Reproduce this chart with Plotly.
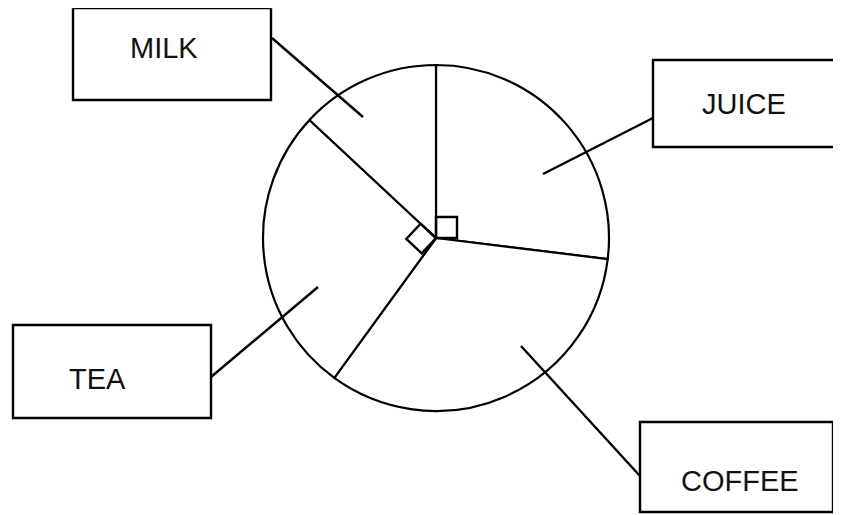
import numpy as np
import plotly.graph_objects as go

# slice sizes in degrees, clockwise from 12 o'clock
drinks = ['JUICE', 'COFFEE', 'TEA', 'MILK']
degrees = [97, 119, 97, 47]

W, H = 841, 515
PAGE = 8  # the page's body margin pushes the plot 8px right and down
CX, CY, R = 436, 238, 173

# label boxes (pixel coords): box, text centre, leader line (box end, slice end)
labels = {
    'MILK':   dict(box=(73, 8, 271, 100),   text=(164, 48),  line=((272, 38), (363, 117))),
    'JUICE':  dict(box=(653, 60, 845, 147), text=(744, 104), line=((653, 118), (543, 174))),
    'TEA':    dict(box=(13, 325, 211, 418), text=(97, 379),  line=((211, 377), (318, 287))),
    'COFFEE': dict(box=(640, 422, 833, 512), text=(740, 481), line=((640, 476), (521, 346))),
}

LINE = dict(color='black', width=2.4)

fig = go.Figure()
fig.add_trace(go.Pie(
    labels=drinks,
    values=degrees,
    sort=False,
    direction='clockwise',
    rotation=0,
    textinfo='none',
    hoverinfo='label+value',
    showlegend=False,
    marker=dict(colors=['white'] * len(drinks), line=dict(color='black', width=2.2)),
    domain=dict(x=[(CX - R - PAGE) / W, (CX + R - PAGE) / W],
                y=[1 - (CY + R - PAGE) / H, 1 - (CY - R - PAGE) / H]),
))

shapes = []
annotations = []
for name in drinks:
    spec = labels[name]
    x0, y0, x1, y1 = spec['box']
    shapes.append(dict(type='rect', xref='x', yref='y', x0=x0, y0=y0, x1=x1, y1=y1, line=LINE))
    (ax, ay), (bx, by) = spec['line']
    shapes.append(dict(type='line', xref='x', yref='y', x0=ax, y0=ay, x1=bx, y1=by, line=LINE))
    tx, ty = spec['text']
    annotations.append(dict(x=tx, y=ty, xref='x', yref='y', text=name, showarrow=False,
                            font=dict(family='Liberation Sans, Arial', size=29, color='#111')))

# right-angle markers at the centre, built from the slice boundaries
bounds = 90 - np.cumsum([0] + degrees)


def square(angle_deg, size, turn):
    a = np.radians(angle_deg)
    b = np.radians(angle_deg + turn)
    u = np.array([np.cos(a), -np.sin(a)]) * size
    v = np.array([np.cos(b), -np.sin(b)]) * size
    c = np.array([CX, CY])
    pts = [c, c + u, c + u + v, c + v]
    return 'M ' + ' L '.join(f'{p[0]:.1f},{p[1]:.1f}' for p in pts) + ' Z'


shapes.append(dict(type='path', xref='x', yref='y', path=square(bounds[0], 21, -90), line=LINE))
shapes.append(dict(type='path', xref='x', yref='y', path=square(bounds[3], 21, 90), line=LINE))

fig.update_layout(
    width=W, height=H,
    margin=dict(l=0, r=0, t=0, b=0),
    paper_bgcolor='white', plot_bgcolor='white',
    xaxis=dict(range=[PAGE, W + PAGE], visible=False, fixedrange=True),
    yaxis=dict(range=[H + PAGE, PAGE], visible=False, fixedrange=True),
    shapes=shapes,
    annotations=annotations,
)

fig.write_html("out.html")
